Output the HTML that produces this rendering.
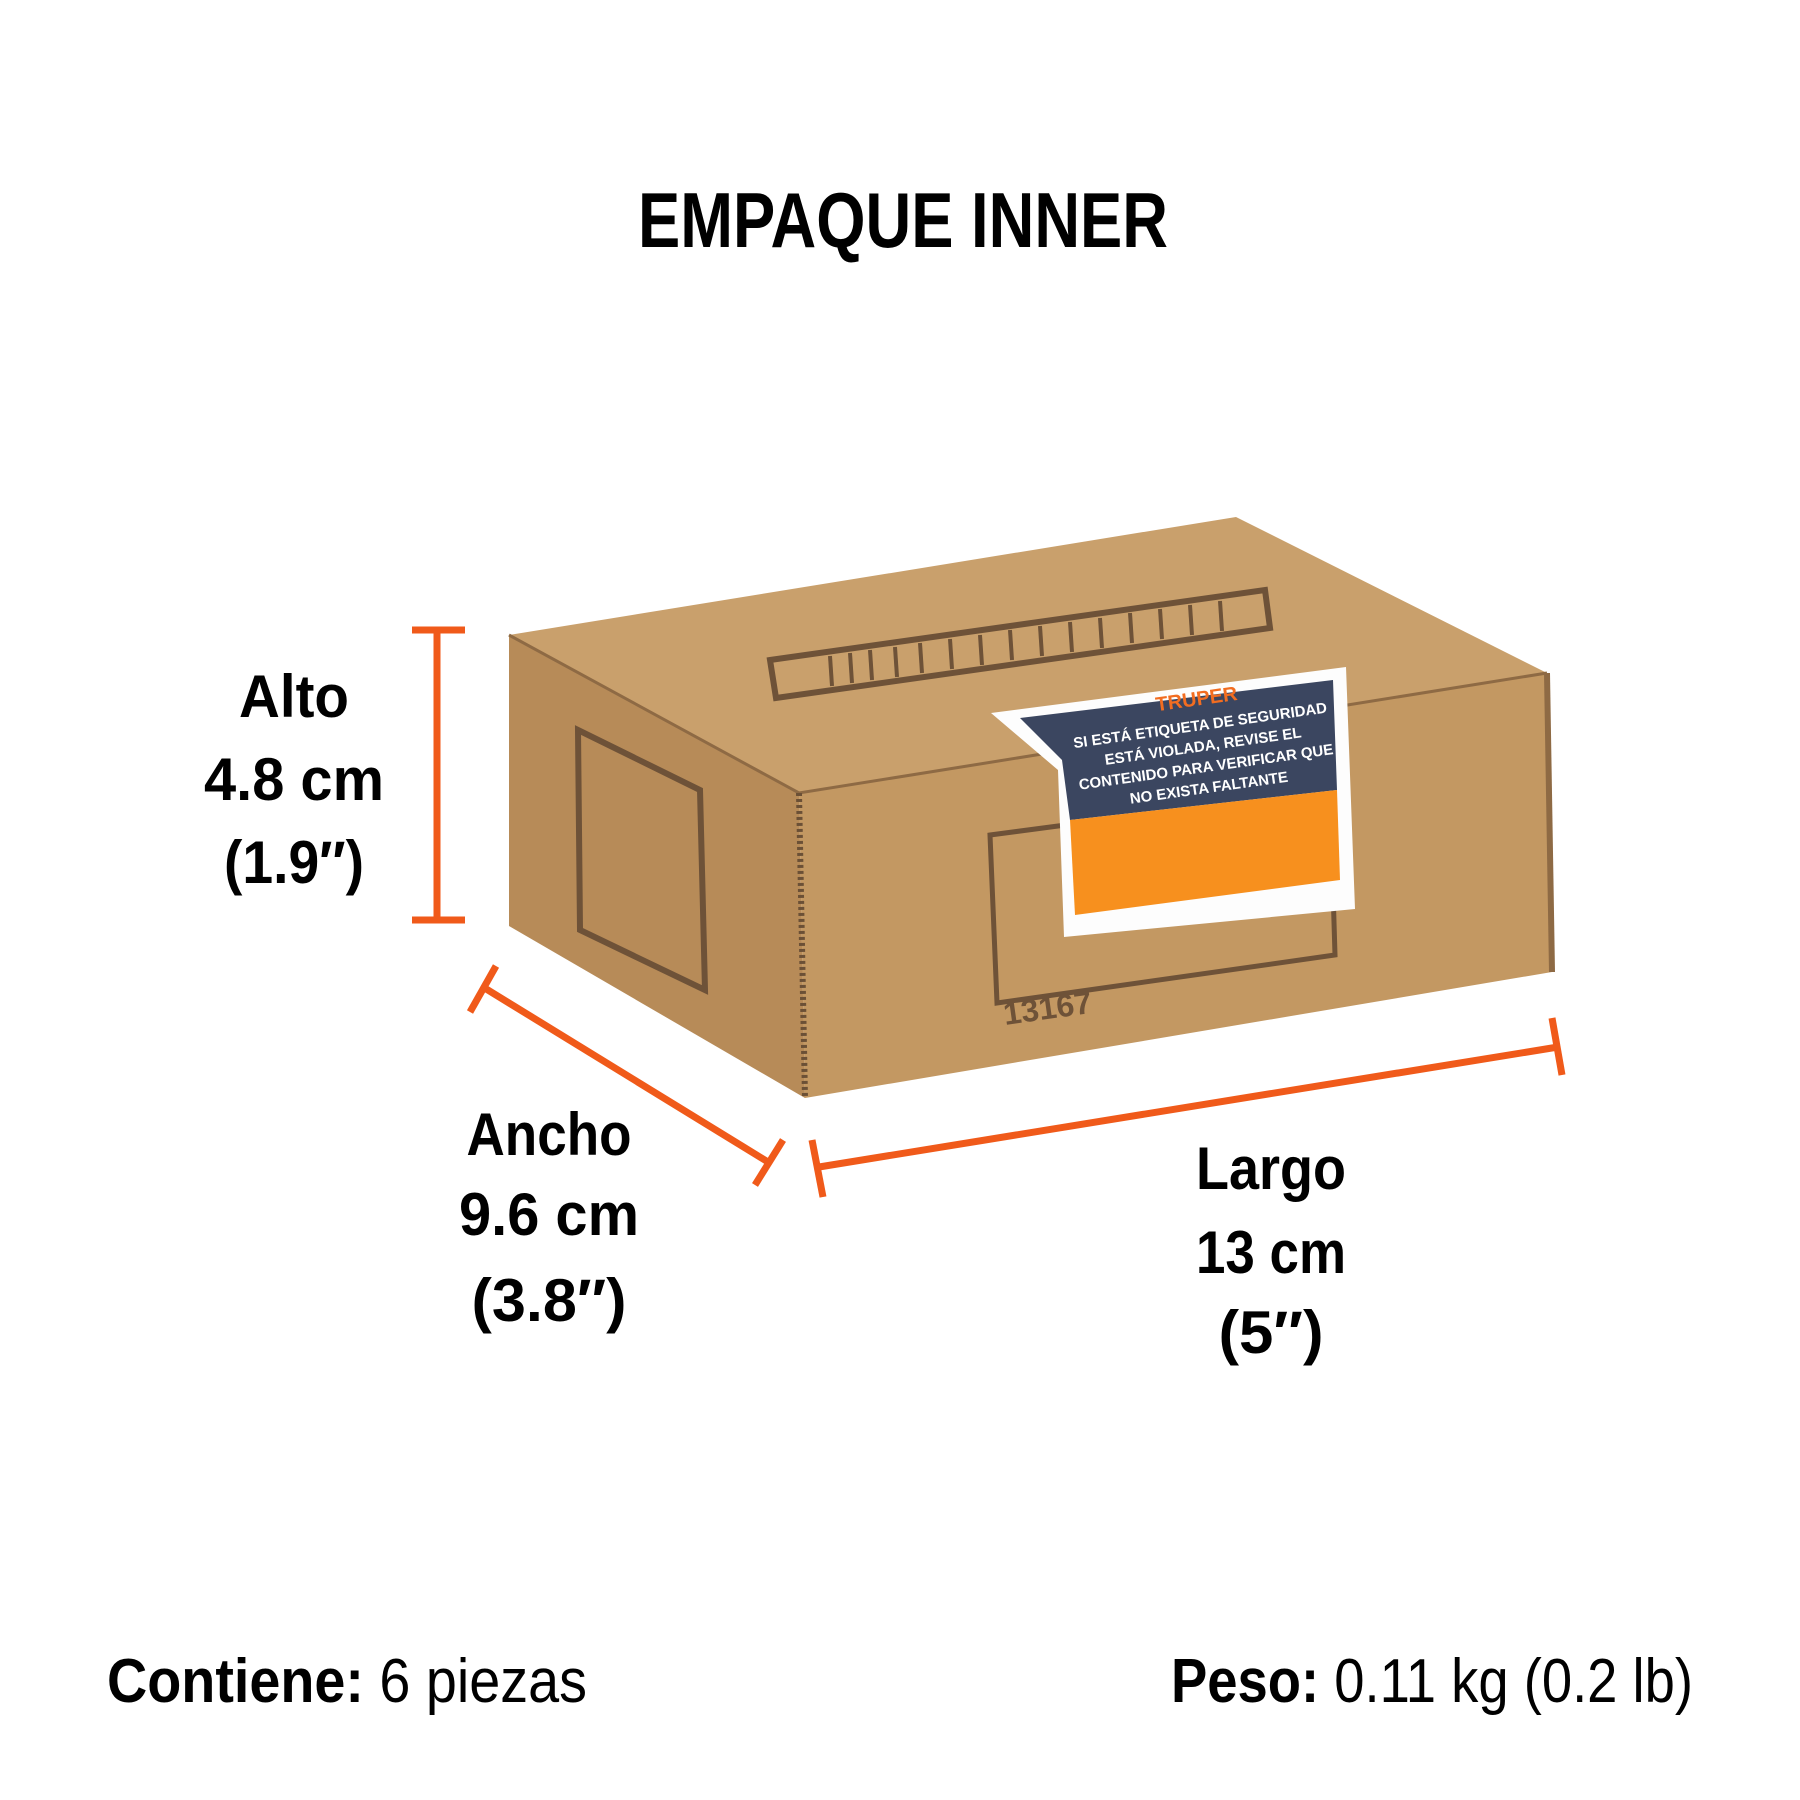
<!DOCTYPE html>
<html><head><meta charset="utf-8"><style>
html,body{margin:0;padding:0;background:#fff;}
svg{display:block;}
text{font-family:"Liberation Sans",sans-serif;font-weight:bold;fill:#000;}
</style></head><body>
<svg width="1800" height="1800" viewBox="0 0 1800 1800" xmlns="http://www.w3.org/2000/svg">
<rect width="1800" height="1800" fill="#fff"/>
<text x="903" y="247" font-size="78" text-anchor="middle" textLength="530" lengthAdjust="spacingAndGlyphs">EMPAQUE INNER</text>

<polygon points="509,635 1236,517 1547,673 799,793" fill="#c9a06c"/>
<polygon points="799,793 1547,673 1552,972 805,1098" fill="#c39862"/>
<polygon points="509,635 799,793 805,1098 509,926" fill="#b78b58"/>
<polyline points="509,635 799,793 1547,673" fill="none" stroke="#8e6a44" stroke-width="3"/>
<line x1="799" y1="793" x2="805" y2="1098" stroke="#6b5036" stroke-width="6" stroke-dasharray="3,3"/>
<line x1="1547" y1="673" x2="1552" y2="972" stroke="#8e6a44" stroke-width="6"/>
<polygon points="770,660 1265,590 1270,628 776,698" fill="none" stroke="#6e5238" stroke-width="6"/>
<g stroke="#6e5238" stroke-width="4">
<line x1="830" y1="656" x2="832" y2="686"/><line x1="850" y1="653" x2="852" y2="683"/><line x1="870" y1="650" x2="872" y2="680"/><line x1="895" y1="647" x2="897" y2="677"/><line x1="920" y1="643" x2="922" y2="673"/><line x1="950" y1="639" x2="952" y2="669"/><line x1="980" y1="635" x2="982" y2="665"/><line x1="1010" y1="630" x2="1012" y2="660"/><line x1="1040" y1="626" x2="1042" y2="656"/><line x1="1070" y1="622" x2="1072" y2="652"/><line x1="1100" y1="618" x2="1102" y2="648"/><line x1="1130" y1="613" x2="1132" y2="643"/><line x1="1160" y1="609" x2="1162" y2="639"/><line x1="1190" y1="605" x2="1192" y2="635"/><line x1="1220" y1="601" x2="1222" y2="631"/>
</g>
<polygon points="990,835 1330,790 1335,955 997,1003" fill="none" stroke="#6e5238" stroke-width="5"/>
<text x="1005" y="1025" font-size="32" style="fill:#6e5238" transform="rotate(-8 1005 1025)">13167</text>
<polygon points="578,730 700,790 705,990 580,930" fill="none" stroke="#6e5238" stroke-width="6"/>
<polygon points="991,713 1346,667 1355,909 1064,937 1058,770" fill="#fdfdfd"/>
<polygon points="1020,718 1333,680 1337,790 1070,820 1062,760" fill="#3b4660"/>
<polygon points="1070,820 1337,790 1340,880 1075,915" fill="#f7901e"/>
<g transform="rotate(-8 1205 760)" font-size="15">
<text x="1205" y="705" text-anchor="middle" style="fill:#f26d21" font-size="20">TRUPER</text>
<text x="1205" y="730" text-anchor="middle" style="fill:#fff">SI ESTÁ ETIQUETA DE SEGURIDAD</text>
<text x="1205" y="751" text-anchor="middle" style="fill:#fff">ESTÁ VIOLADA, REVISE EL</text>
<text x="1205" y="772" text-anchor="middle" style="fill:#fff">CONTENIDO PARA VERIFICAR QUE</text>
<text x="1205" y="793" text-anchor="middle" style="fill:#fff">NO EXISTA FALTANTE</text>
</g>

<g stroke="#f05a1a" stroke-width="7" fill="none">
<line x1="437" y1="630" x2="437" y2="920"/>
<line x1="412" y1="630" x2="465" y2="630"/>
<line x1="412" y1="920" x2="465" y2="920"/>
<line x1="483" y1="987" x2="768" y2="1162"/>
<line x1="470" y1="1012" x2="496" y2="966"/>
<line x1="755" y1="1185" x2="783" y2="1140"/>
<line x1="819" y1="1167" x2="1558" y2="1047"/>
<line x1="812" y1="1140" x2="823" y2="1197"/>
<line x1="1552" y1="1018" x2="1562" y2="1075"/>
</g>

<g font-size="60" text-anchor="middle">
<text x="294" y="717" textLength="110" lengthAdjust="spacingAndGlyphs">Alto</text>
<text x="294" y="800" textLength="180" lengthAdjust="spacingAndGlyphs">4.8 cm</text>
<text x="294" y="883" textLength="140" lengthAdjust="spacingAndGlyphs" font-weight="normal">(1.9″)</text>
<text x="549" y="1155" textLength="165" lengthAdjust="spacingAndGlyphs">Ancho</text>
<text x="549" y="1235" textLength="180" lengthAdjust="spacingAndGlyphs">9.6 cm</text>
<text x="549" y="1321" textLength="155" lengthAdjust="spacingAndGlyphs" font-weight="normal">(3.8″)</text>
<text x="1271" y="1189" textLength="150" lengthAdjust="spacingAndGlyphs">Largo</text>
<text x="1271" y="1273" textLength="150" lengthAdjust="spacingAndGlyphs">13 cm</text>
<text x="1271" y="1353" textLength="105" lengthAdjust="spacingAndGlyphs" font-weight="normal">(5″)</text>
</g>
<text x="107" y="1702" font-size="62" textLength="480" lengthAdjust="spacingAndGlyphs">Contiene: <tspan font-weight="normal">6 piezas</tspan></text>
<text x="1171" y="1702" font-size="62" textLength="522" lengthAdjust="spacingAndGlyphs">Peso: <tspan font-weight="normal">0.11 kg (0.2 lb)</tspan></text>
</svg>
</body></html>
